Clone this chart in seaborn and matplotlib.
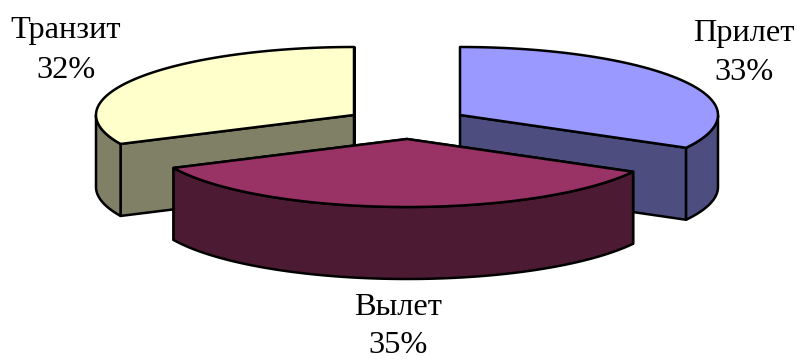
import numpy as np
import matplotlib
matplotlib.use("Agg")
import matplotlib.pyplot as plt
import seaborn as sns

# Passenger flow shares, in drawing order (clockwise from twelve o'clock)
categories = ["Прилет", "Вылет", "Транзит"]
shares = [33, 35, 32]
top_colors = ["#9999FF", "#993366", "#FFFFCC"]

# Projection of the tilted pie, in pixels
RX, RY, DEPTH = 258, 68, 72
centers = {"Прилет": (460, 115), "Вылет": (407, 139), "Транзит": (354, 115)}
# Label centre x with the baselines of its two lines
label_pos = {"Прилет": (744, 40.5, 80), "Вылет": (398, 315, 353), "Транзит": (66, 38, 78)}
draw_order = ["Транзит", "Прилет", "Вылет"]

sns.set_theme(style="white")
plt.rcParams["font.family"] = ["Liberation Serif", "DejaVu Serif"]
palette = dict(zip(categories, sns.color_palette(top_colors)))

fig, ax = plt.subplots(figsize=(7.99, 3.6), dpi=100)
ax.set_position([0, 0, 1, 1])
ax.set_xlim(0, 799)
ax.set_ylim(360, 0)
ax.axis("off")

# Start and end angle of every slice, walking clockwise from 90 degrees
edges = 90 - np.cumsum([0] + shares) / sum(shares) * 360
spans = {c: (edges[i], edges[i + 1]) for i, c in enumerate(categories)}


def rim(cx, cy, angles, drop=0):
    a = np.radians(angles)
    return cx + RX * np.cos(a), cy - RY * np.sin(a) + drop


style = dict(edgecolor="black", linewidth=1.8, joinstyle="round")
for name in draw_order:
    cx, cy = centers[name]
    start, end = spans[name]
    top = palette[name]
    dark = tuple(v * 0.5 for v in top)
    arc = np.linspace(start, end, 240)

    # Flat cut faces running from the apex to each end of the arc
    for angle in (start, end):
        ex, ey = rim(cx, cy, np.array([angle]))
        ax.fill([cx, ex[0], ex[0], cx], [cy, ey[0], ey[0] + DEPTH, cy + DEPTH],
                facecolor=dark, **style)

    # Curved outer wall: only the part of the arc that faces the viewer
    front = arc[np.sin(np.radians(arc)) <= 0]
    if front.size:
        x, y = rim(cx, cy, front)
        xb, yb = rim(cx, cy, front[::-1], DEPTH)
        ax.fill(np.r_[x, xb], np.r_[y, yb], facecolor=dark, **style)

    # Top surface of the slice
    x, y = rim(cx, cy, arc)
    ax.fill(np.r_[cx, x], np.r_[cy, y], facecolor=top, **style)

for name, share in zip(categories, shares):
    lx, name_y, share_y = label_pos[name]
    ax.text(lx, name_y, name, ha="center", va="baseline", fontsize=23.3, color="black")
    ax.text(lx, share_y, f"{share}%", ha="center", va="baseline", fontsize=23.3, color="black")

fig.savefig("out.png", dpi=100)
